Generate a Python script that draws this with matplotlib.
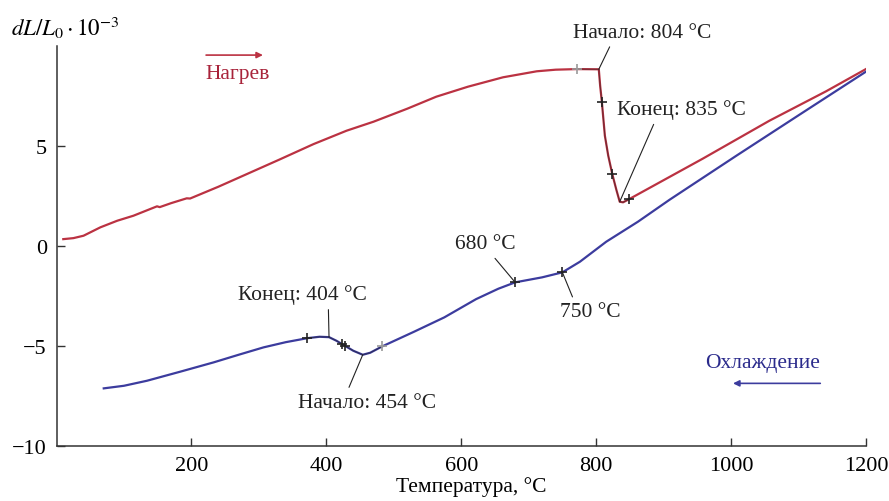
import numpy as np
import matplotlib
matplotlib.use("Agg")
from matplotlib import pyplot as plt

# Dilatometric curve: heating (red) and cooling (blue), dL/L0 * 10^-3 vs temperature
heat_t = [10, 25, 40, 65, 90, 114, 140, 149, 153, 170, 193, 198, 240, 282, 330, 381, 430, 470, 520, 563,
          610, 662, 712, 740, 771, 804, 806, 808.5, 813, 818, 824, 830, 835, 840, 849, 958, 1057, 1141, 1200]
heat_d = [0.33, 0.38, 0.5, 0.92, 1.25, 1.5, 1.85, 1.97, 1.93, 2.13, 2.37, 2.36, 2.95, 3.58, 4.3, 5.08, 5.75,
          6.2, 6.85, 7.45, 7.95, 8.42, 8.72, 8.8, 8.83, 8.82, 8.0, 7.2, 5.5, 4.5, 3.58, 2.8, 2.2, 2.17, 2.33,
          4.35, 6.25, 7.72, 8.83]

cool_t = [70, 100, 134, 183, 233, 270, 307, 340, 372, 390, 404, 415, 425, 440, 454, 465, 483, 530, 575,
          622, 655, 680, 720, 750, 776, 815, 862, 909, 1008, 1107, 1200]
cool_d = [-7.13, -7.0, -6.75, -6.3, -5.83, -5.45, -5.08, -4.82, -4.62, -4.55, -4.57, -4.75, -4.95, -5.25,
          -5.45, -5.35, -5.03, -4.3, -3.58, -2.67, -2.15, -1.83, -1.58, -1.33, -0.8, 0.2, 1.2, 2.3, 4.5,
          6.67, 8.7]

# marked points on each curve
heat_marks = [808.5, 824, 849]
heat_marks_grey = [771]
cool_marks = [372, 423, 427, 680, 750]
cool_marks_grey = [483]

# transformation ranges drawn darker
heat_range = (771, 849)
cool_range = (372, 483)

x_ticks = [200, 400, 600, 800, 1000, 1200]
y_ticks = [-10, -5, 0, 5]

RED = '#bb3242'
BLUE = '#3c3c9e'

plt.rcParams['font.family'] = ['Liberation Serif', 'DejaVu Serif']
plt.rcParams['mathtext.fontset'] = 'stix'

fig = plt.figure(figsize=(8.89, 5.02), dpi=100)
ax = fig.add_axes([0.0636, 0.110, 0.9104, 0.797])

ax.plot(heat_t, heat_d, color=RED, lw=1.6, solid_joinstyle='round', zorder=3)
ax.plot(cool_t, cool_d, color=BLUE, lw=1.6, solid_joinstyle='round', zorder=3)

def dark(t, d, rng):
    t = np.asarray(t); d = np.asarray(d)
    m = (t >= rng[0]) & (t <= rng[1])
    ax.plot(t[m], d[m], color='#222222', lw=0.7, alpha=0.55, zorder=3.5)

dark(heat_t, heat_d, heat_range)
dark(cool_t, cool_d, cool_range)

def marks(xs, t, d, color):
    ys = np.interp(xs, t, d)
    ax.plot(xs, ys, ls='none', marker='+', ms=7, mew=1.2, color=color, zorder=4)

marks(heat_marks, heat_t, heat_d, '#222222')
marks(heat_marks_grey, heat_t, heat_d, '#9a9a9a')
marks(cool_marks, cool_t, cool_d, '#222222')
marks(cool_marks_grey, cool_t, cool_d, '#9a9a9a')

# labels with leader lines
notes = [
    ('Начало: 804 °C', 804, heat_t, heat_d, (869, 10.68), (0.28, 0.0)),
    ('Конец: 835 °C', 835, heat_t, heat_d, (927, 6.83), (0.3, 0.0)),
    ('Конец: 404 °C', 404, cool_t, cool_d, (364.7, -2.42), (0.7, 0.0)),
    ('Начало: 454 °C', 454, cool_t, cool_d, (461, -7.82), (0.35, 1.0)),
    ('680 °C', 680, cool_t, cool_d, (635, 0.09), (0.6, 0.0)),
    ('750 °C', 750, cool_t, cool_d, (790.7, -3.3), (0.25, 1.0)),
]
for txt, t0, t, d, pos, rp in notes:
    ax.annotate(txt, xy=(t0, np.interp(t0, t, d)), xytext=pos, ha='center', va='center',
                fontsize=15.5, color='#222222', annotation_clip=False,
                arrowprops=dict(arrowstyle='-', color='#222222', lw=0.8,
                                shrinkA=2, shrinkB=0, relpos=rp))

# direction arrows
ax.annotate('', xy=(306, 9.53), xytext=(221.7, 9.53),
            arrowprops=dict(arrowstyle='-|>', color=RED, lw=1.2, mutation_scale=9, shrinkA=0, shrinkB=0))
ax.text(269, 8.63, 'Нагрев', color='#a8233a', fontsize=15.5, ha='center', va='center')
ax.annotate('', xy=(1003, -6.88), xytext=(1132.4, -6.88),
            arrowprops=dict(arrowstyle='-|>', color=BLUE, lw=1.2, mutation_scale=9, shrinkA=0, shrinkB=0))
ax.text(1047, -5.82, 'Охлаждение', color='#2b2b8c', fontsize=15.5, ha='center', va='center')

ax.set_xlim(0, 1200)
ax.set_ylim(-10, 10)
ax.set_xticks(x_ticks)
ax.set_yticks(y_ticks)
ax.tick_params(direction='in', length=5.5, width=1, color='#333333', labelsize=16, pad=7)
for s in ['top', 'right']:
    ax.spines[s].set_visible(False)
for s in ['left', 'bottom']:
    ax.spines[s].set_linewidth(1.1)
    ax.spines[s].set_color('#333333')

ax.set_xlabel('Температура, °C', fontsize=15.5, labelpad=0)
ax.xaxis.set_label_coords(0.512, -0.075)
fig.text(0.012, 0.928, r'$dL/L_0\cdot10^{-3}$', fontsize=16.5, va='baseline', ha='left')

plt.savefig('out.png', dpi=100)
